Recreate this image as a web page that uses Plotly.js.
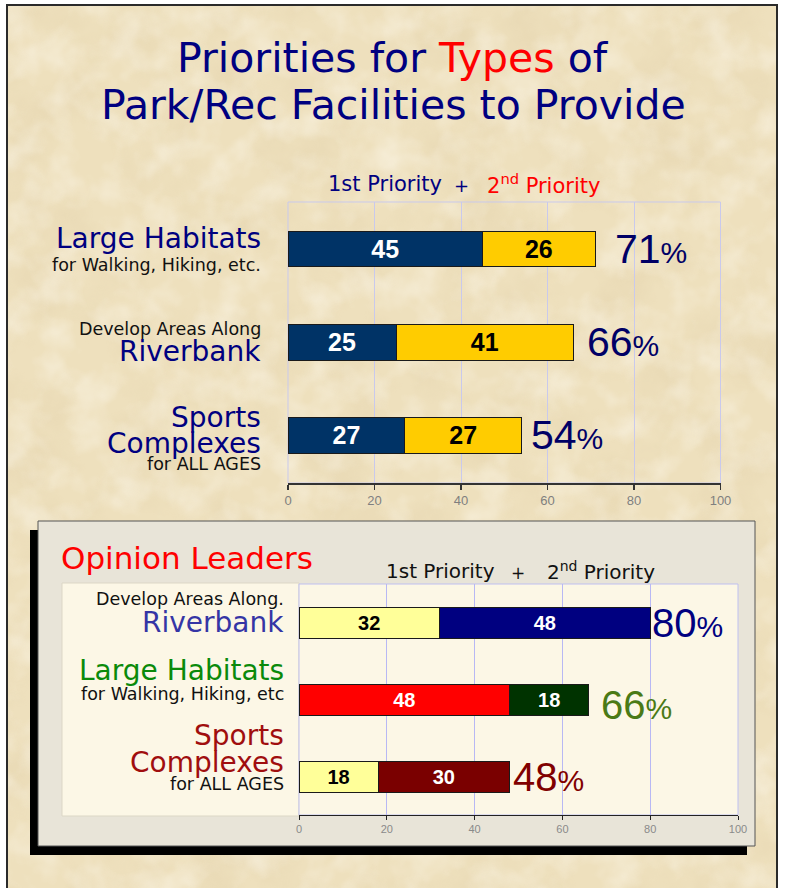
<!DOCTYPE html>
<html>
<head>
<meta charset="utf-8">
<script src="https://cdn.plot.ly/plotly-3.0.1.min.js"></script>
<style>html,body{margin:0;padding:0;background:#fff;}#chart{width:785px;height:888px;}</style>
</head>
<body>
<div id="chart"></div>
<script>
// ---------- DATA ----------
const topCats = ["Large Habitats", "Riverbank", "Sports Complexes"];
const topFirst = [45, 25, 27];
const topSecond = [26, 41, 27];

const leaderCats = ["Riverbank", "Large Habitats", "Sports Complexes"];
const leaderFirst = [32, 48, 18];
const leaderSecond = [48, 18, 30];

const tickVals = [0, 20, 40, 60, 80, 100];

// ---------- STYLE / LAYOUT HELPERS ----------
const W = 785, H = 888;
const px = x => x / W;
const py = y => 1 - y / H;
const LABEL_FONT = "DejaVu Sans, Verdana, sans-serif";
const NUM_FONT = "Liberation Sans, Arial, sans-serif";

const topTotals = topFirst.map((v, i) => v + topSecond[i]);
const leaderTotals = leaderFirst.map((v, i) => v + leaderSecond[i]);

const leaderFirstColors = ["#FFFF99", "#FF0000", "#FFFF99"];
const leaderFirstText = ["#000000", "#FFFFFF", "#000000"];
const leaderSecondColors = ["#000080", "#003300", "#7A0000"];
const leaderTotalColors = ["#000080", "#4A7A16", "#800000"];

const barLine = {color: "#1a1a1a", width: 1};

const traces = [
  {type: "bar", orientation: "h", y: topCats, x: topFirst, xaxis: "x", yaxis: "y",
   width: 0.386, marker: {color: "#003366", line: barLine},
   text: topFirst.map(String), textposition: "inside", insidetextanchor: "middle",
   textfont: {family: NUM_FONT, size: 25, color: "#FFFFFF", weight: "bold"},
   constraintext: "none", hoverinfo: "skip"},
  {type: "bar", orientation: "h", y: topCats, x: topSecond, xaxis: "x", yaxis: "y",
   width: 0.386, marker: {color: "#FFCC00", line: barLine},
   text: topSecond.map(String), textposition: "inside", insidetextanchor: "middle",
   textfont: {family: NUM_FONT, size: 25, color: "#000000", weight: "bold"},
   constraintext: "none", hoverinfo: "skip"},
  {type: "bar", orientation: "h", y: leaderCats, x: leaderFirst, xaxis: "x2", yaxis: "y2",
   width: 0.40, marker: {color: leaderFirstColors, line: barLine},
   text: leaderFirst.map(String), textposition: "inside", insidetextanchor: "middle",
   textfont: {family: NUM_FONT, size: 20, color: leaderFirstText, weight: "bold"},
   constraintext: "none", hoverinfo: "skip"},
  {type: "bar", orientation: "h", y: leaderCats, x: leaderSecond, xaxis: "x2", yaxis: "y2",
   width: 0.40, marker: {color: leaderSecondColors, line: barLine},
   text: leaderSecond.map(String), textposition: "inside", insidetextanchor: "middle",
   textfont: {family: NUM_FONT, size: 20, color: "#FFFFFF", weight: "bold"},
   constraintext: "none", hoverinfo: "skip"}
];

const ann = [];
function addText(text, x, y, size, color, opts) {
  ann.push(Object.assign({text: text, x: px(x), y: py(y), xref: "paper", yref: "paper",
    showarrow: false, xanchor: "center", yanchor: "middle",
    font: {family: LABEL_FONT, size: size, color: color}}, opts || {}));
}
// Title
addText("Priorities for <span style='color:#FF0000'>Types</span> of", 393, 58, 41, "#000080");
addText("Park/Rec Facilities to Provide", 393, 105, 41, "#000080");
// Top legend
addText("1st Priority", 385, 184, 21, "#000080");
addText("+", 461, 186, 18, "#000080");
addText("2<sup>nd</sup> Priority", 543, 184, 21, "#FF0000");
// Bottom panel header
addText("Opinion Leaders", 59, 558, 31, "#FF0000", {xanchor: "left"});
addText("1st Priority", 440, 571, 20, "#111111");
addText("+", 518, 573, 17, "#111111");
addText("2<sup>nd</sup> Priority", 601, 571, 20, "#111111");

// Category labels (lines: text, size, color, vertical offset from bar centre in px)
const topLabelLines = [
  [["Large Habitats", 28, "#000080", -10], ["for Walking, Hiking, etc.", 17.5, "#111111", 16]],
  [["Develop Areas Along", 17.5, "#111111", -13], ["Riverbank", 28, "#000080", 9.5]],
  [["Sports", 28, "#000080", -18], ["Complexes", 28, "#000080", 8], ["for ALL AGES", 17.5, "#111111", 28.5]]
];
topCats.forEach((c, i) => {
  topLabelLines[i].forEach(l => {
    ann.push({text: l[0], xref: "paper", x: px(263), xanchor: "right", yref: "y", y: c,
      yanchor: "middle", yshift: -l[3], showarrow: false,
      font: {family: LABEL_FONT, size: l[1], color: l[2]}});
  });
});
const leaderLabelLines = [
  [["Develop Areas Along.", 17.5, "#111111", -24], ["Riverbank", 28, "#3535A5", 0]],
  [["Large Habitats", 28, "#0A8A0A", -29], ["for Walking, Hiking, etc", 17.5, "#111111", -6]],
  [["Sports", 28, "#A00E0E", -41], ["Complexes", 28, "#A00E0E", -14], ["for ALL AGES", 17.5, "#111111", 7.5]]
];
leaderCats.forEach((c, i) => {
  leaderLabelLines[i].forEach(l => {
    ann.push({text: l[0], xref: "paper", x: px(286), xanchor: "right", yref: "y2", y: c,
      yanchor: "middle", yshift: -l[3], showarrow: false,
      font: {family: LABEL_FONT, size: l[1], color: l[2]}});
  });
});

// Totals
const topShift = [18, 12, 7];
topCats.forEach((c, i) => {
  ann.push({text: topTotals[i] + "<span style='font-size:30px'>%</span>", xref: "x", x: topTotals[i],
    yref: "y", y: c, xanchor: "left", yanchor: "middle", xshift: topShift[i], yshift: 0,
    showarrow: false, font: {family: NUM_FONT, size: 41, color: "#000066"}});
});
const leaderShift = [0, 10, 1];
const leaderYShift = [0, -5, 0];
leaderCats.forEach((c, i) => {
  ann.push({text: leaderTotals[i] + "<span style='font-size:30px'>%</span>", xref: "x2", x: leaderTotals[i],
    yref: "y2", y: c, xanchor: "left", yanchor: "middle", xshift: leaderShift[i], yshift: leaderYShift[i],
    showarrow: false, font: {family: NUM_FONT, size: 40, color: leaderTotalColors[i]}});
});

// Parchment texture (subtle)
const svgTex = "<svg xmlns='http://www.w3.org/2000/svg' width='770' height='883'>" +
  "<filter id='f'><feTurbulence type='fractalNoise' baseFrequency='0.016' numOctaves='4' seed='7'/>" +
  "<feColorMatrix type='matrix' values='0 0 0 0 0.66 0 0 0 0 0.52 0 0 0 0 0.30 1.6 0 0 0 -0.68'/></filter>" +
  "<filter id='g'><feTurbulence type='fractalNoise' baseFrequency='0.03' numOctaves='3' seed='11'/>" +
  "<feColorMatrix type='matrix' values='0 0 0 0 1 0 0 0 0 0.98 0 0 0 0 0.92 1.8 0 0 0 -0.72'/></filter>" +
  "<rect width='100%' height='100%' fill='#EEE0BD'/>" +
  "<rect width='100%' height='100%' filter='url(#f)' opacity='0.28'/>" +
  "<rect width='100%' height='100%' filter='url(#g)' opacity='0.45'/></svg>";
const texURI = "data:image/svg+xml;charset=utf-8," + encodeURIComponent(svgTex);

const shapes = [
  // outer frame
  {type: "rect", xref: "paper", yref: "paper", x0: px(7), x1: px(777), y0: py(895), y1: py(5),
   line: {color: "#2a2a2a", width: 2}, fillcolor: "rgba(0,0,0,0)", layer: "below"},
  // bottom panel shadow
  {type: "rect", xref: "paper", yref: "paper", x0: px(30), x1: px(747), y0: py(855), y1: py(530),
   line: {width: 0}, fillcolor: "#000000", layer: "below"},
  // bottom panel
  {type: "rect", xref: "paper", yref: "paper", x0: px(38), x1: px(755), y0: py(846), y1: py(521),
   line: {color: "#555555", width: 1}, fillcolor: "#E8E4D8", layer: "below"},
  // label box
  {type: "rect", xref: "paper", yref: "paper", x0: px(62), x1: px(299), y0: py(816), y1: py(583),
   line: {color: "#DCD7C6", width: 1}, fillcolor: "#FCF7E6", layer: "below"},
  // bottom plot area
  {type: "rect", xref: "x2 domain", yref: "y2 domain", x0: 0, x1: 1, y0: 0, y1: 1,
   line: {color: "#BFC0F0", width: 1}, fillcolor: "#FCF7E6", layer: "below"},
  // top plot area border
  {type: "rect", xref: "x domain", yref: "y domain", x0: 0, x1: 1, y0: 0, y1: 1,
   line: {color: "#C9C9EC", width: 1}, fillcolor: "rgba(0,0,0,0)", layer: "below"}
];

const layout = {
  width: W, height: H, margin: {l: 0, r: 0, t: 0, b: 0},
  paper_bgcolor: "#FFFFFF", plot_bgcolor: "rgba(0,0,0,0)",
  showlegend: false, barmode: "stack",
  xaxis: {domain: [px(288), px(720.5)], anchor: "y", range: [0, 100], tickvals: tickVals,
    showgrid: true, gridcolor: "#C9C9EC", gridwidth: 1, zeroline: false,
    showline: true, linecolor: "#333333", linewidth: 1.5, ticks: "outside", ticklen: 5,
    tickcolor: "#333333", tickwidth: 1.5, tickfont: {family: NUM_FONT, size: 13, color: "#7F7F7F"},
    fixedrange: true},
  yaxis: {domain: [py(483), py(202)], anchor: "x", type: "category", categoryarray: topCats,
    range: [2.51, -0.504], showticklabels: false, showgrid: false, zeroline: false,
    showline: false, ticks: "", fixedrange: true},
  xaxis2: {domain: [px(299), px(738)], anchor: "y2", range: [0, 100], tickvals: tickVals,
    showgrid: true, gridcolor: "#B8B8F4", gridwidth: 1, zeroline: false,
    showline: true, linecolor: "#222222", linewidth: 1, ticks: "outside", ticklen: 4,
    tickcolor: "#222222", tickfont: {family: NUM_FONT, size: 11, color: "#8A8A8A"},
    fixedrange: true},
  yaxis2: {domain: [py(815), py(584)], anchor: "x2", type: "category", categoryarray: leaderCats,
    range: [2.494, -0.506], showticklabels: false, showgrid: false, zeroline: false,
    showline: false, ticks: "", fixedrange: true},
  images: [{source: texURI, xref: "paper", yref: "paper", x: px(7), y: py(5),
    sizex: px(777) - px(7), sizey: py(5) - py(888), sizing: "stretch", layer: "below",
    xanchor: "left", yanchor: "top"}],
  shapes: shapes,
  annotations: ann
};

Plotly.newPlot("chart", traces, layout, {staticPlot: true, displayModeBar: false});
</script>
</body>
</html>
